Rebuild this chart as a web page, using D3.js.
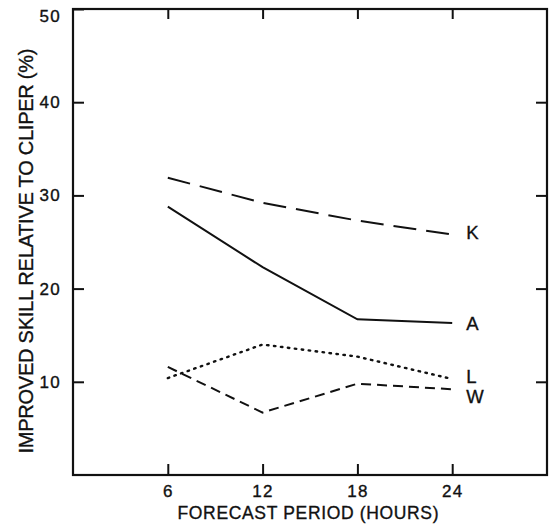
<!DOCTYPE html>
<html>
<head>
<meta charset="utf-8">
<script src="https://cdn.jsdelivr.net/npm/d3@7"></script>
<style>
  body { margin: 0; background: #fff; }
  svg text { font-family: "Liberation Sans", Arial, sans-serif; fill: #111; stroke: #111; stroke-width: 0.35px; }
</style>
</head>
<body>
<script>
const hours = [6, 12, 18, 24];
const xTicks = [6, 12, 18, 24];
const yTicks = [10, 20, 30, 40, 50];
const seriesNames = ["K", "A", "L", "W"];
const kValues = [31.9, 29.2, 27.3, 25.8];
const aValues = [28.8, 22.3, 16.7, 16.3];
const lValues = [10.4, 14.0, 12.7, 10.3];
const wValues = [11.6, 6.7, 9.8, 9.2];

const w = 551, h = 527;
const svg = d3.select("body").append("svg")
  .attr("width", w)
  .attr("height", h);

const x = d3.scaleLinear().domain([0, 30]).range([73, 547]);
const y = d3.scaleLinear().domain([0, 50]).range([475, 9]);

// frame
svg.append("rect")
  .attr("x", x(0)).attr("y", y(50))
  .attr("width", x(30) - x(0)).attr("height", y(0) - y(50))
  .attr("fill", "none").attr("stroke", "#111").attr("stroke-width", 2.2);

const styleAxis = (g) => {
  g.select(".domain").remove();
  g.selectAll(".tick line").attr("stroke", "#111").attr("stroke-width", 2);
  g.selectAll("text").attr("font-size", 17).attr("fill", "#111").attr("letter-spacing", 1.3);
};

svg.append("g").attr("transform", `translate(${x(0)},0)`)
  .call(d3.axisLeft(y).tickValues(yTicks).tickSize(-11).tickSizeOuter(0).tickPadding(12))
  .call(styleAxis)
  .selectAll(".tick text")
  .filter((d) => d === 50)
  .attr("dy", "0.75em");
svg.append("g").attr("transform", `translate(${x(30)},0)`)
  .call(d3.axisRight(y).tickValues(yTicks.slice(0, 4)).tickSize(-11).tickSizeOuter(0).tickFormat(""))
  .call(styleAxis);
svg.append("g").attr("transform", `translate(0,${y(0)})`)
  .call(d3.axisBottom(x).tickValues(xTicks).tickSize(-11).tickSizeOuter(0).tickPadding(10))
  .call(styleAxis);
svg.append("g").attr("transform", `translate(0,${y(50)})`)
  .call(d3.axisTop(x).tickValues(xTicks).tickSize(-10).tickSizeOuter(0).tickFormat(""))
  .call(styleAxis);

// axis titles
svg.append("text")
  .attr("x", 308).attr("y", 519)
  .attr("text-anchor", "middle")
  .attr("font-size", 17.5)
  .attr("textLength", 261)
  .text("FORECAST PERIOD (HOURS)");

svg.append("text")
  .attr("transform", "translate(33,251) rotate(-90)")
  .attr("text-anchor", "middle")
  .attr("font-size", 20)
  .attr("textLength", 405)
  .text("IMPROVED SKILL RELATIVE TO CLIPER (%)");

// lines
const series = [
  { name: "K", values: kValues, dash: "23,10", dy: 4 },
  { name: "A", values: aValues, dash: null, dy: 7 },
  { name: "L", values: lValues, dash: "1.5,5.5", dy: 4 },
  { name: "W", values: wValues, dash: "10,6", dy: 14 }
];

const line = d3.line()
  .x((d, i) => x(hours[i]))
  .y((d) => y(d));

series.forEach((s) => {
  svg.append("path")
    .datum(s.values)
    .attr("d", line)
    .attr("fill", "none")
    .attr("stroke", "#111")
    .attr("stroke-width", s.name === "L" ? 2.4 : 2)
    .attr("stroke-linecap", s.name === "L" ? "round" : "butt")
    .attr("stroke-dasharray", s.dash);

  svg.append("text")
    .attr("x", x(hours[hours.length - 1]) + 14)
    .attr("y", y(s.values[s.values.length - 1]) + s.dy)
    .attr("font-size", 18.5)
    .text(s.name);
});
</script>
</body>
</html>
